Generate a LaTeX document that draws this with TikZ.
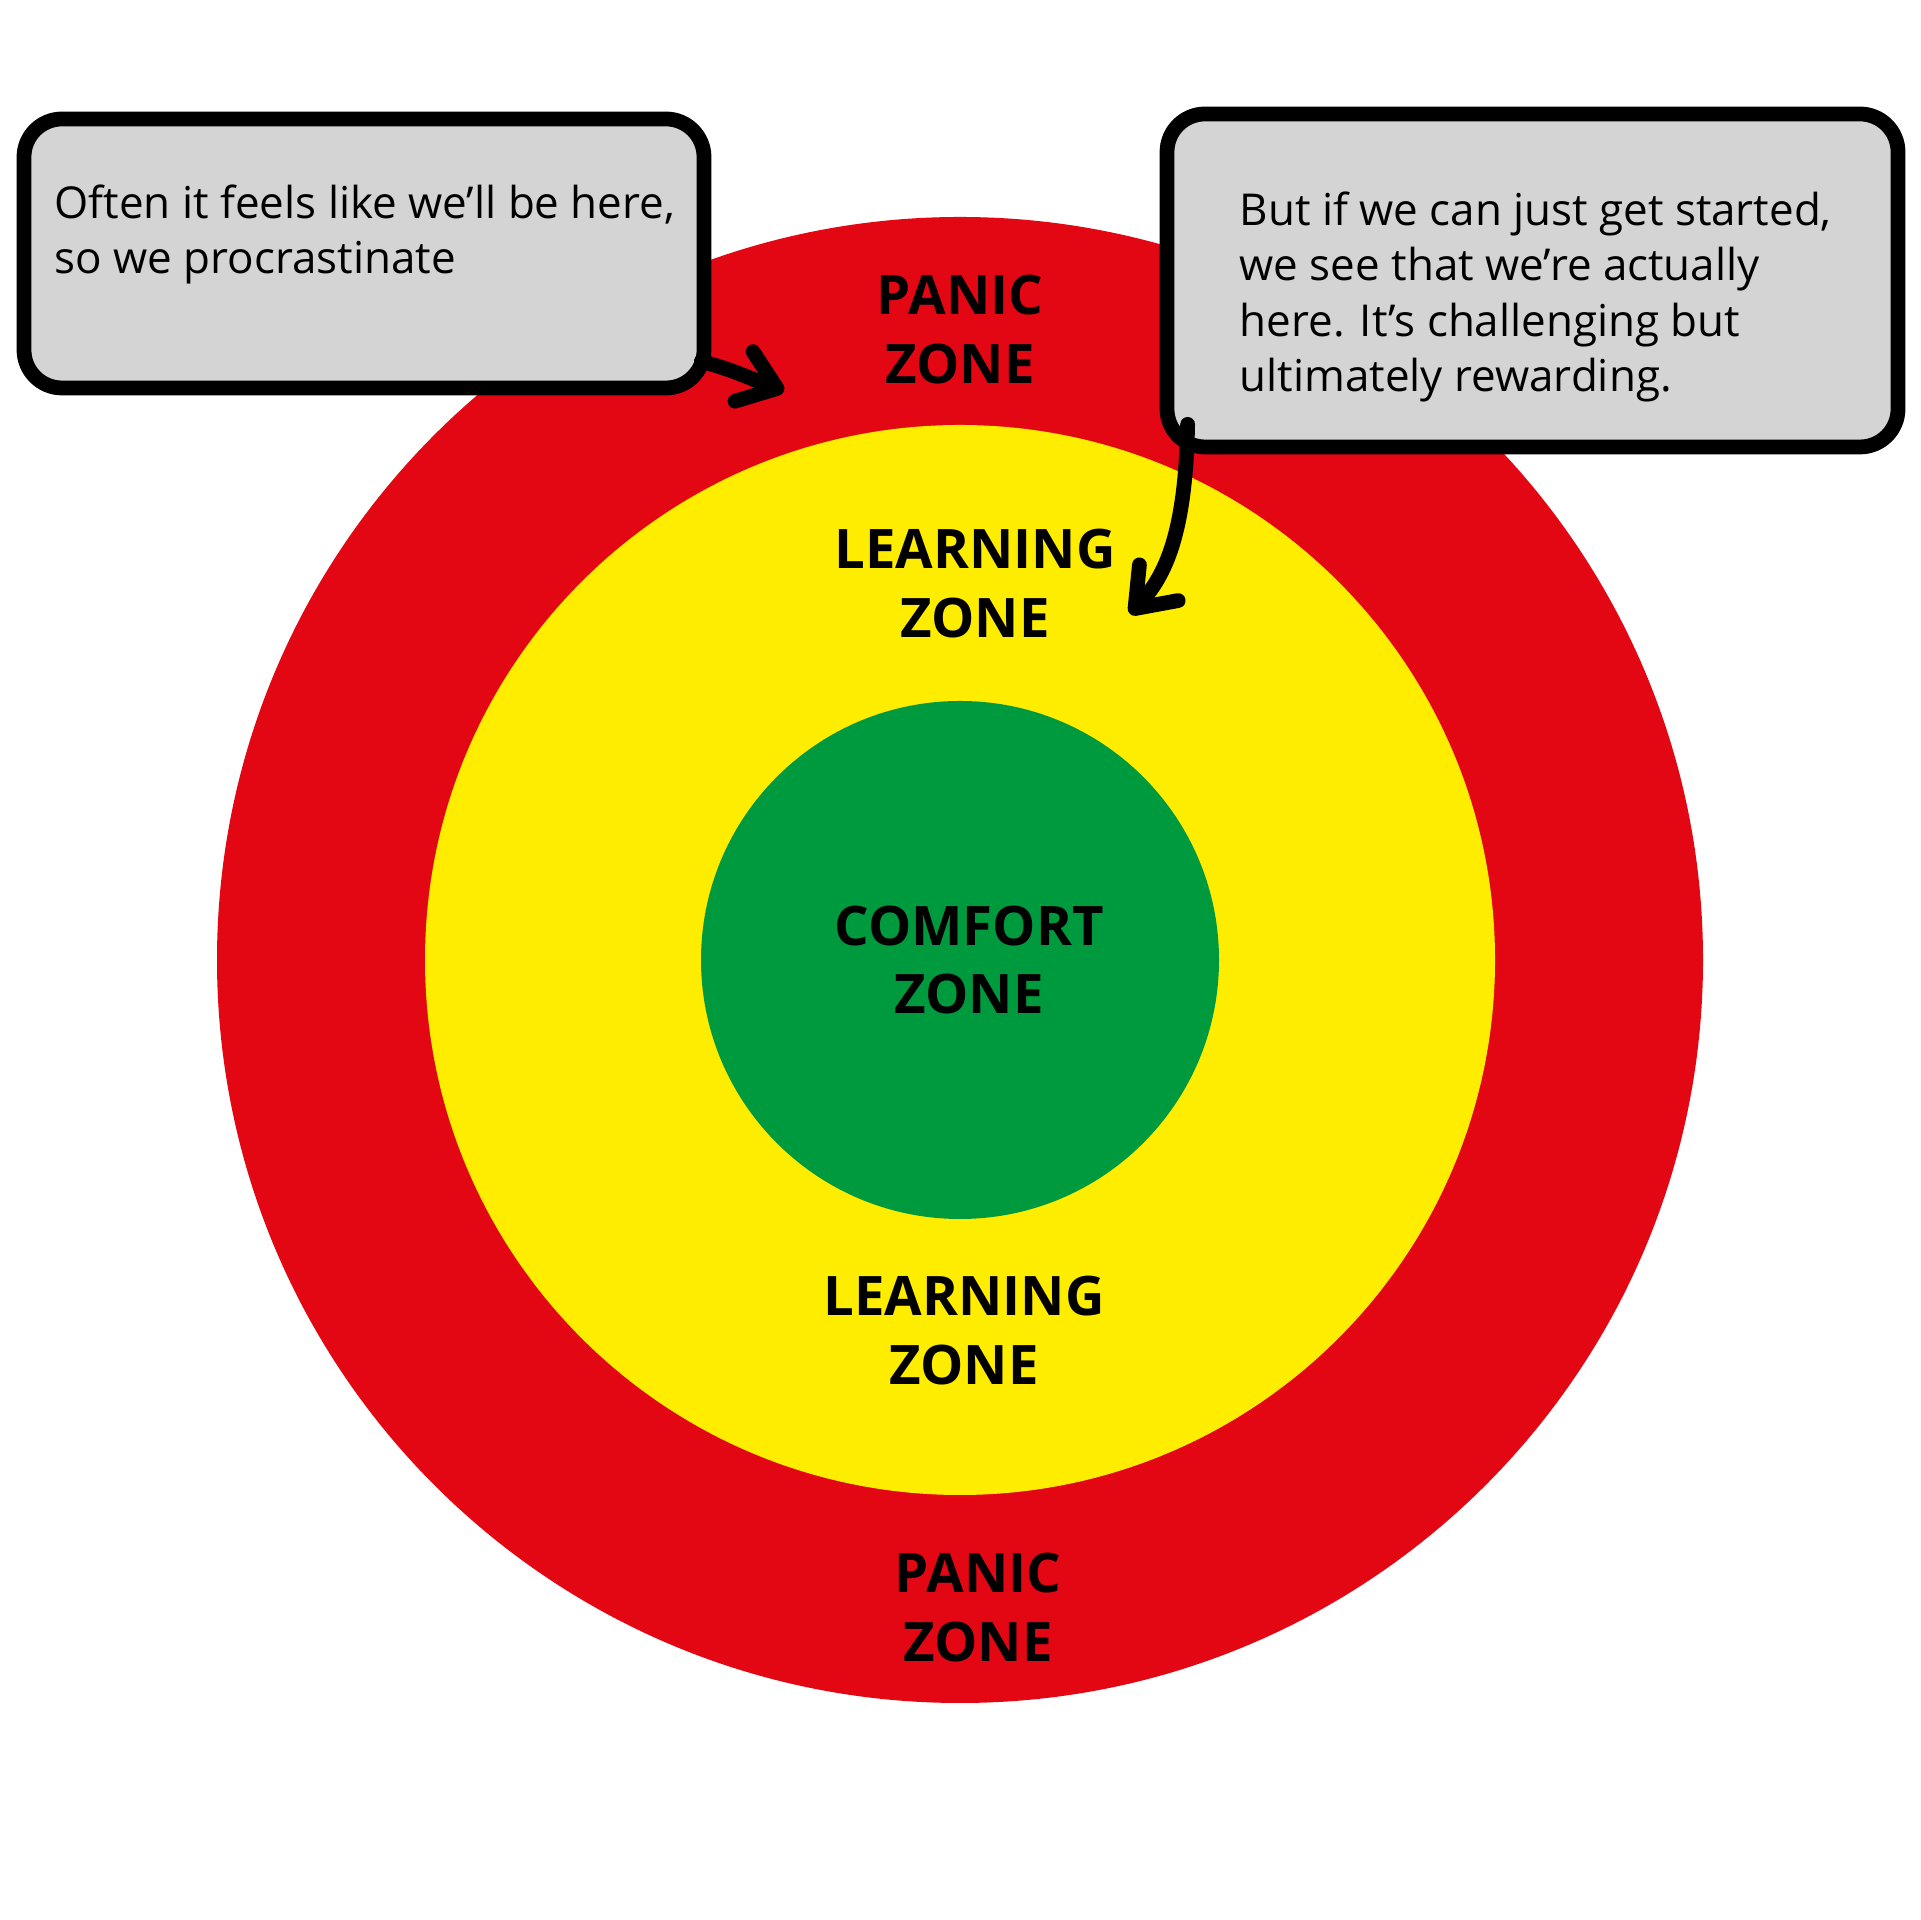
\documentclass[tikz,border=0pt]{standalone}
\usepackage{fontspec}
\setmainfont{Open Sans}
\usetikzlibrary{arrows.meta}
\definecolor{panicred}{HTML}{E30613}
\definecolor{learnyellow}{HTML}{FFED00}
\definecolor{comfortgreen}{HTML}{009A3E}
\definecolor{notegrey}{HTML}{D4D4D4}

\begin{document}
\begin{tikzpicture}[
  zone/.style={font=\bfseries\fontsize{15.5}{19.6}\selectfont, align=center, inner sep=0pt},
  note/.style={draw=black, fill=notegrey, line width=4.2pt, rounded corners=0.38cm, inner sep=0pt},
  notetext/.style={font=\fontsize{12.5}{15.8}\selectfont, align=left, anchor=north west, inner sep=0pt},
  pointer/.style={line width=4.2pt, line cap=round, -{Straight Barb[round,length=10pt,width=15pt]}}
]
\useasboundingbox (0,0) rectangle (19.2,19.2);
\fill[white] (0,0) rectangle (19.2,19.2);
% the three zones
\fill[panicred] (9.6,9.6) circle (7.43);
\fill[learnyellow] (9.6,9.6) circle (5.35);
\fill[comfortgreen] (9.6,9.6) circle (2.59);
\node[zone] (paniczonetop) at (9.60,15.905) {PANIC\\ZONE};
\node[zone] (learnzonetop) at (9.75,13.36) {LEARNING\\ZONE};
\node[zone] (comfortzone) at (9.69,9.60) {COMFORT\\ZONE};
\node[zone] (learnzonebot) at (9.64,5.895) {LEARNING\\ZONE};
\node[zone] (paniczonebot) at (9.78,3.125) {PANIC\\ZONE};
% speech boxes
\node[note, minimum width=6.8cm, minimum height=2.69cm] (leftnote) at (3.64,16.665) {};
\node[notetext] (lefttext) at (0.54,17.36) {Often it feels like we’ll be here,\\so we procrastinate};
\node[note, minimum width=7.31cm, minimum height=3.33cm] (rightnote) at (15.325,16.395) {};
\node[notetext] (righttext) at (12.39,17.29) {But if we can just get started,\\we see that we’re actually\\here. It’s challenging but\\ultimately rewarding.};
% arrows
\coordinate (panictip) at (7.84,15.29);
\coordinate (learntip) at (11.30,13.06);
\draw[pointer] ([xshift=-0.1cm,yshift=0.34cm]leftnote.south east) to[out=-15,in=160] (panictip);
\draw[pointer] ([xshift=0.28cm,yshift=0.30cm]rightnote.south west) .. controls +(-0.02,-1.1) and +(0.35,0.38) .. (learntip);
\end{tikzpicture}
\end{document}
